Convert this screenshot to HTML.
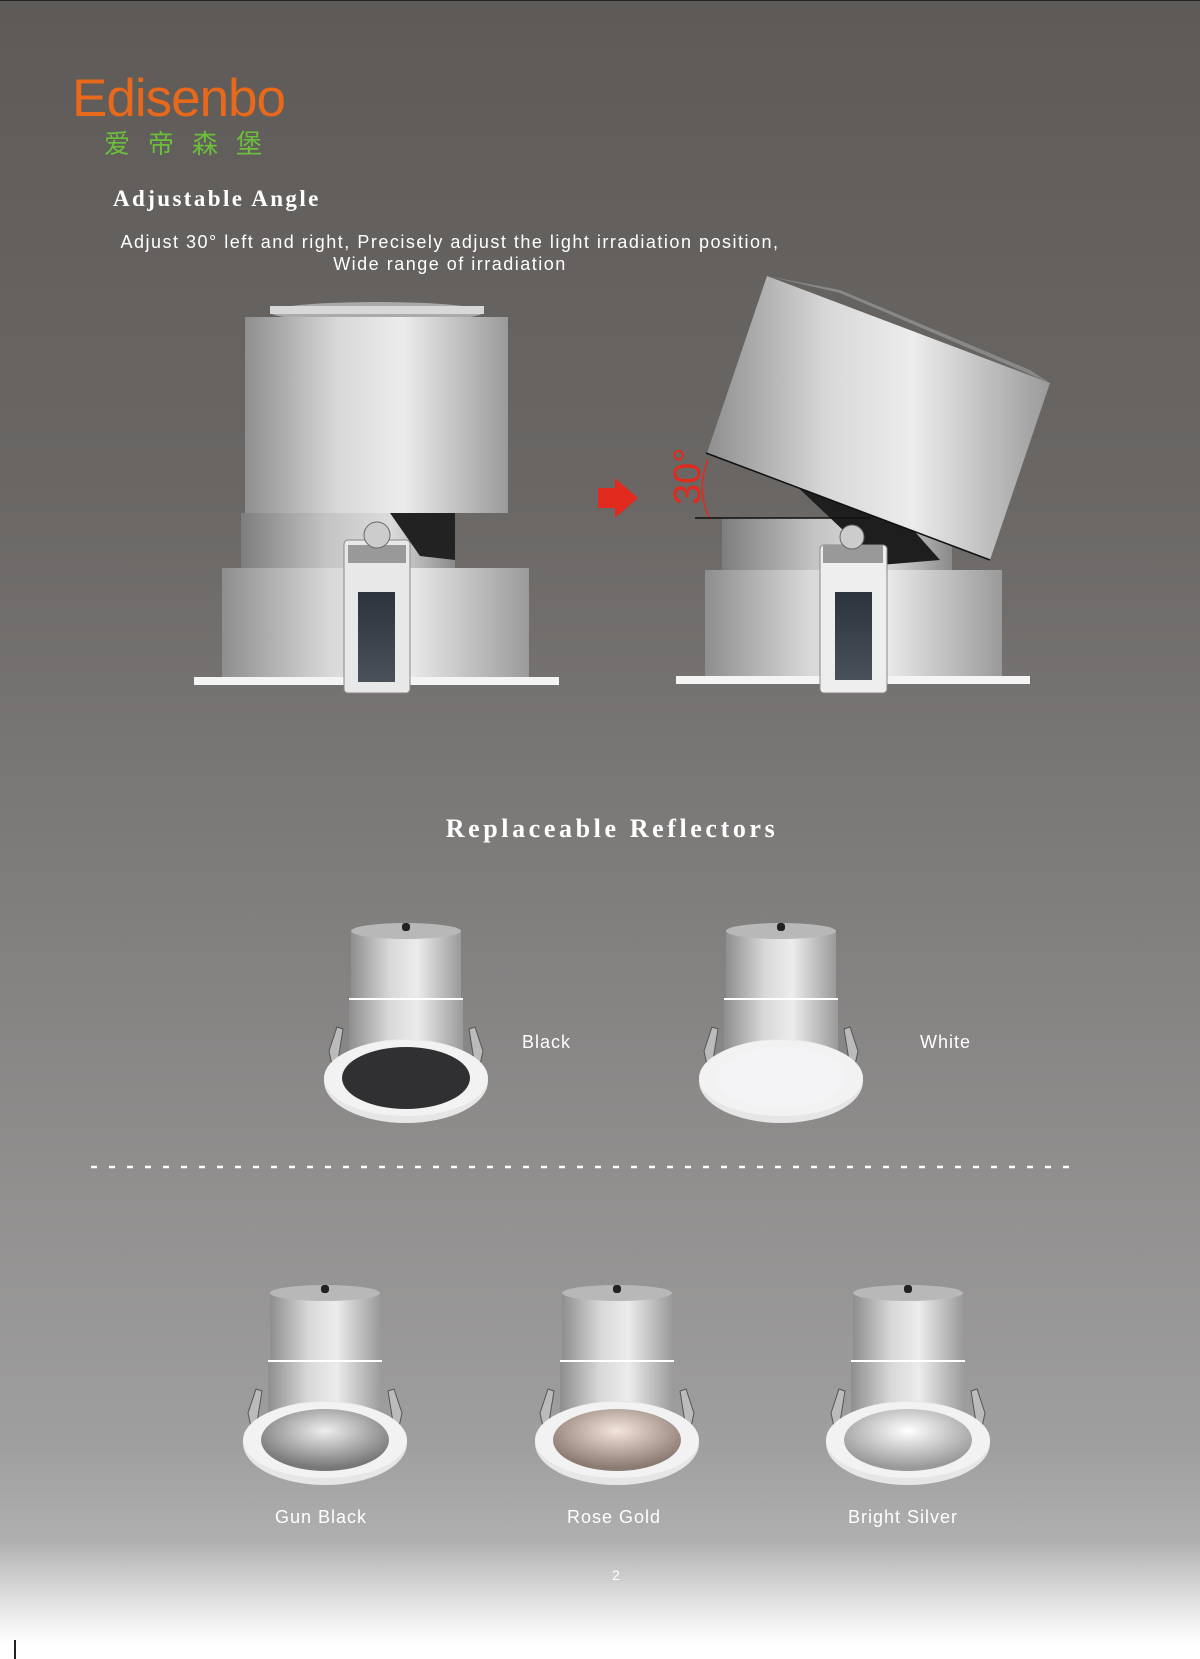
<!DOCTYPE html>
<html><head><meta charset="utf-8"><style>
html,body{margin:0;padding:0}
body{width:1200px;height:1659px;overflow:hidden;position:relative;font-family:"Liberation Sans",sans-serif;
background:linear-gradient(#5e5a58 0px,#6a6765 500px,#868483 1000px,#a09f9f 1450px,#b0afaf 1540px,#e8e8e8 1610px,#fff 1645px);}
.t{position:absolute;white-space:nowrap;color:#fff}
svg{position:absolute;left:0;top:0}
</style></head><body>
<div style="position:absolute;left:0;top:0;width:1200px;height:1px;background:#222"></div>
<div style="position:absolute;left:14px;top:1640px;width:2px;height:19px;background:#222"></div>
<svg width="1200" height="1659" viewBox="0 0 1200 1659">
<defs>
<linearGradient id="cyl" x1="0" x2="1"><stop offset="0" stop-color="#8e8e8e"/><stop offset=".35" stop-color="#d8d8d8"/><stop offset=".6" stop-color="#ececec"/><stop offset="1" stop-color="#9a9a9a"/></linearGradient>
<linearGradient id="cyl2" x1="0" x2="1"><stop offset="0" stop-color="#7d7d7d"/><stop offset=".4" stop-color="#c4c4c4"/><stop offset=".7" stop-color="#dcdcdc"/><stop offset="1" stop-color="#8a8a8a"/></linearGradient>
<linearGradient id="dark" x1="0" y1="0" x2="0" y2="1"><stop offset="0" stop-color="#2c333c"/><stop offset="1" stop-color="#4a515a"/></linearGradient>
<radialGradient id="refl" cx=".5" cy=".35" r=".6"><stop offset="0" stop-color="#eee"/><stop offset="1" stop-color="#777"/></radialGradient>
<radialGradient id="rose" cx=".5" cy=".35" r=".6"><stop offset="0" stop-color="#f3e4dc"/><stop offset="1" stop-color="#8a7a72"/></radialGradient>
<radialGradient id="silv" cx=".5" cy=".35" r=".6"><stop offset="0" stop-color="#fff"/><stop offset="1" stop-color="#999"/></radialGradient>
<g id="dl">
<rect x="30" y="8" width="110" height="70" fill="url(#cyl)"/>
<ellipse cx="85" cy="8" rx="55" ry="8" fill="#b8b8b8"/>
<rect x="81" y="0" width="8" height="8" rx="3" fill="#222"/>
<rect x="28" y="76" width="114" height="52" fill="url(#cyl)"/>
<line x1="28" y1="76" x2="142" y2="76" stroke="#fff" stroke-width="2"/>
<path d="M8 128 L16 104 L22 106 L14 156 Z" fill="#bbb" stroke="#555"/>
<path d="M162 128 L154 104 L148 106 L156 156 Z" fill="#bbb" stroke="#555"/>
<ellipse cx="85" cy="158" rx="82" ry="42" fill="#e6e6e6"/>
<ellipse cx="85" cy="155" rx="82" ry="38" fill="#f2f2f2"/>
</g>
</defs>

<ellipse cx="377" cy="312" rx="107" ry="10" fill="#aaa"/>
<rect x="270" y="306" width="214" height="8" fill="#d8d8d8"/>
<rect x="245" y="317" width="263" height="196" fill="url(#cyl)"/>
<rect x="241" y="513" width="214" height="55" fill="url(#cyl2)"/>
<path d="M390 513 L455 513 L455 560 L420 556 Z" fill="#222"/>
<rect x="222" y="568" width="307" height="109" fill="url(#cyl)"/>
<rect x="194" y="677" width="365" height="8" fill="#f4f4f4"/>
<rect x="344" y="540" width="66" height="153" rx="4" fill="#e8e8e8" stroke="#888"/>
<rect x="358" y="592" width="37" height="90" fill="url(#dark)"/>
<rect x="348" y="545" width="58" height="18" fill="#999"/>
<circle cx="377" cy="535" r="13" fill="#ccc" stroke="#666"/>

<path d="M598 488 L615 488 L615 478 L638 498 L615 518 L615 508 L598 508 Z" fill="#e02a1e"/>
<text x="0" y="0" transform="translate(700,505) rotate(-90)" font-family="Liberation Sans" font-size="38" fill="#e02a1e">30°</text>
<path d="M708 460 Q696 490 709 517" stroke="#e02a1e" fill="none" stroke-width="1.5"/>

<rect x="722" y="518" width="230" height="55" fill="url(#cyl2)"/>
<rect x="705" y="570" width="297" height="106" fill="url(#cyl)"/>
<rect x="676" y="676" width="354" height="8" fill="#f4f4f4"/>
<path d="M790 480 L860 470 L940 560 L880 565 Z" fill="#1e1e1e"/>
<polygon points="707,453 990,560 1050,383 767,276" fill="url(#cyl)"/>
<polygon points="767,276 840,293 1050,383 1030,370 840,290" fill="#888"/>
<line x1="706" y1="453" x2="990" y2="560" stroke="#111" stroke-width="1.5"/>
<line x1="695" y1="518" x2="870" y2="518" stroke="#111" stroke-width="1.5"/>
<rect x="820" y="545" width="67" height="148" rx="4" fill="#eee" stroke="#888"/>
<rect x="835" y="592" width="37" height="88" fill="url(#dark)"/>
<rect x="823" y="545" width="60" height="18" fill="#999"/>
<circle cx="852" cy="537" r="12" fill="#ccc" stroke="#666"/>

<g transform="translate(321,923)"><use href="#dl"/><ellipse cx="85" cy="155" rx="64" ry="31" fill="#303033"/></g>
<g transform="translate(696,923)"><use href="#dl"/><ellipse cx="85" cy="155" rx="64" ry="31" fill="#f4f4f6"/></g>
<line x1="91" y1="1167" x2="1081" y2="1167" stroke="#fff" stroke-width="2.5" stroke-dasharray="6 12"/>
<g transform="translate(240,1285)"><use href="#dl"/><ellipse cx="85" cy="155" rx="64" ry="31" fill="url(#refl)"/></g>
<g transform="translate(532,1285)"><use href="#dl"/><ellipse cx="85" cy="155" rx="64" ry="31" fill="url(#rose)"/></g>
<g transform="translate(823,1285)"><use href="#dl"/><ellipse cx="85" cy="155" rx="64" ry="31" fill="url(#silv)"/></g>
</svg>

<div class="t" style="left:72px;top:68px;font-size:53px;color:#e8691a;letter-spacing:-1px">Edisenbo</div>
<div class="t" style="left:104px;top:124px;font-size:26px;color:#6cbf3a;letter-spacing:18px;font-family:'Liberation Sans','Noto Sans CJK SC',sans-serif">爱帝森堡</div>
<div class="t" style="left:113px;top:186px;font-size:23px;font-weight:bold;letter-spacing:2.4px;font-family:'Liberation Serif',serif">Adjustable Angle</div>
<div class="t" style="left:0;width:900px;text-align:center;top:231px;font-size:18px;line-height:22px;letter-spacing:1.5px">Adjust 30° left and right, Precisely adjust the light irradiation position,<br>Wide range of irradiation</div>
<div class="t" style="left:362px;width:500px;text-align:center;top:814px;font-size:26px;font-weight:bold;letter-spacing:3.6px;font-family:'Liberation Serif',serif">Replaceable Reflectors</div>
<div class="t" style="left:522px;top:1032px;font-size:18px;letter-spacing:1px">Black</div>
<div class="t" style="left:920px;top:1032px;font-size:18px;letter-spacing:1px">White</div>
<div class="t" style="left:221px;width:200px;text-align:center;top:1507px;font-size:18px;letter-spacing:1px">Gun Black</div>
<div class="t" style="left:514px;width:200px;text-align:center;top:1507px;font-size:18px;letter-spacing:1px">Rose Gold</div>
<div class="t" style="left:803px;width:200px;text-align:center;top:1507px;font-size:18px;letter-spacing:1px">Bright Silver</div>
<div class="t" style="left:612px;top:1567px;font-size:14px">2</div>
</body></html>
